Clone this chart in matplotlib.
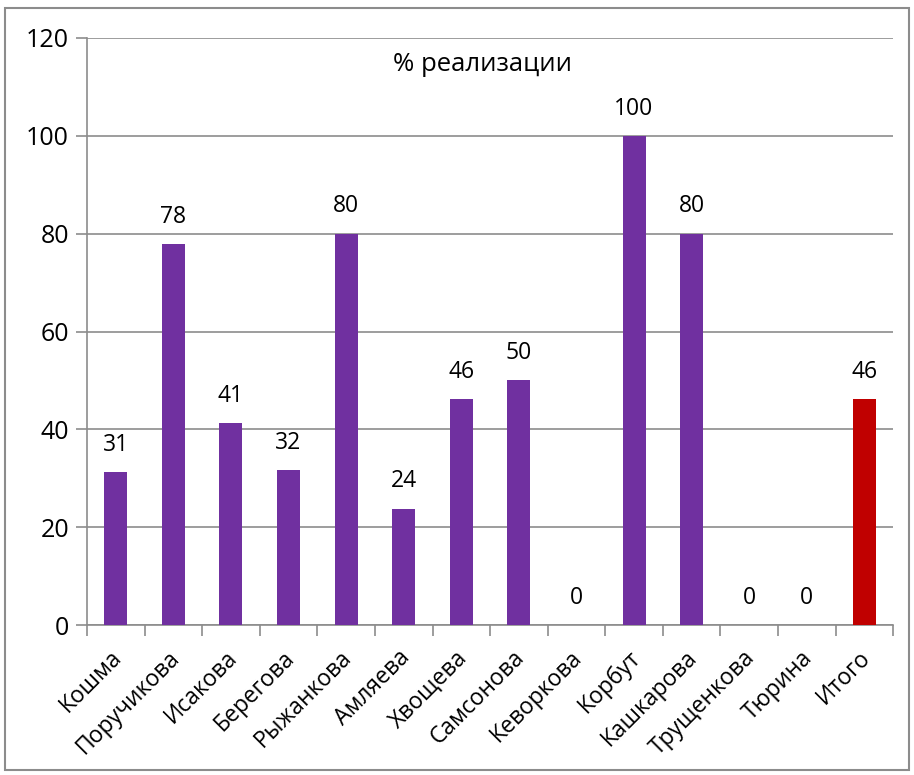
import matplotlib
matplotlib.use("Agg")
import matplotlib.pyplot as plt
import matplotlib.transforms as mtransforms
from matplotlib.patches import Rectangle

plt.rcParams['font.family'] = ['Open Sans', 'DejaVu Sans']

names = ['Кошма', 'Поручикова', 'Исакова', 'Берегова', 'Рыжанкова', 'Амляева', 'Хвощева',
         'Самсонова', 'Кеворкова', 'Корбут', 'Кашкарова', 'Трущенкова', 'Тюрина', 'Итого']
values = [31.3, 77.8, 41.2, 31.6, 80, 23.8, 46.2, 50, 0, 100, 80, 0, 0, 46.2]
colors = ['#7030A0'] * 13 + ['#C00000']

fig = plt.figure(figsize=(9.14, 7.75), dpi=100)
ax = fig.add_axes([0.0952, 0.1935, 0.882, 0.7575])

x = list(range(len(names)))
ax.bar(x, values, width=0.4, color=colors, zorder=3)

for xi, v in zip(x, values):
    ax.annotate(f'{v:.0f}', (xi, v), xytext=(0, 11), textcoords='offset points',
                ha='center', va='bottom', fontsize=16.5, color='black')

ax.set_ylim(0, 120)
ax.set_xlim(-0.5, len(names) - 0.5)
ax.set_yticks(range(0, 121, 20))
ax.yaxis.grid(True, color='#8c8c8c', linewidth=1.2, zorder=0)
ax.set_xticks([i - 0.5 for i in range(len(names) + 1)], minor=False)
ax.set_xticklabels([])
ax.set_xticks(x, minor=True)
ax.set_xticklabels(names, minor=True, rotation=45, ha='right', rotation_mode='anchor',
                   fontsize=16.5)
ax.tick_params(axis='x', which='minor', length=0, pad=15)
ax.tick_params(axis='x', which='major', length=8, width=1.2, color='#8c8c8c')
ax.tick_params(axis='y', length=8, width=1.2, color='#8c8c8c', labelsize=18, pad=5)
shift = mtransforms.ScaledTranslation(-6 / 100, 0, fig.dpi_scale_trans)
for lab in ax.get_xticklabels(minor=True):
    lab.set_transform(lab.get_transform() + shift)

for s in ['top', 'right']:
    ax.spines[s].set_visible(False)
for s in ['left', 'bottom']:
    ax.spines[s].set_color('#8c8c8c')
    ax.spines[s].set_linewidth(1.2)

ax.text(0.49, 0.955, '% реализации', transform=ax.transAxes, ha='center', va='center',
        fontsize=18.5)

fig.patches.append(Rectangle((0.006, 0.006), 0.989, 0.984, transform=fig.transFigure,
                             fill=False, edgecolor='#8c8c8c', linewidth=1.5))

fig.savefig('out.png', dpi=100)
